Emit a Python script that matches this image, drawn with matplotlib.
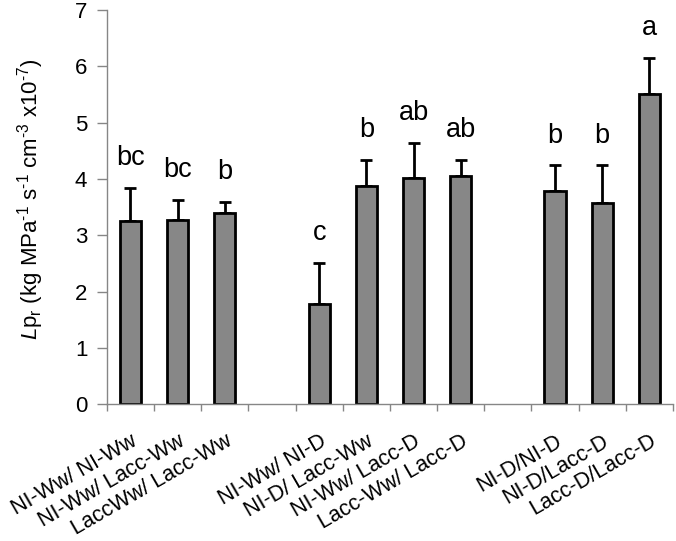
import matplotlib
matplotlib.use("Agg")
import matplotlib.pyplot as plt

plt.rcParams['font.family'] = ['Liberation Sans', 'DejaVu Sans']
plt.rcParams['mathtext.fontset'] = 'custom'
plt.rcParams['mathtext.rm'] = 'Liberation Sans'
plt.rcParams['mathtext.it'] = 'Liberation Sans:italic'

# data
labels = ['NI-Ww/ NI-Ww', 'NI-Ww/ Lacc-Ww', 'LaccWw/ Lacc-Ww',
          'NI-Ww/ NI-D', 'NI-D/ Lacc-Ww', 'NI-Ww/ Lacc-D', 'Lacc-Ww/ Lacc-D',
          'NI-D/NI-D', 'NI-D/Lacc-D', 'Lacc-D/Lacc-D']
slots = [0, 1, 2, 4, 5, 6, 7, 9, 10, 11]
lpr = [3.25, 3.27, 3.39, 1.78, 3.87, 4.01, 4.05, 3.78, 3.57, 5.51]
err = [0.59, 0.35, 0.20, 0.73, 0.46, 0.63, 0.28, 0.46, 0.67, 0.64]
letters = ['bc', 'bc', 'b', 'c', 'b', 'ab', 'ab', 'b', 'b', 'a']

fig = plt.figure(figsize=(6.76, 5.41), dpi=100)
ax = fig.add_axes([0.158, 0.253, 0.8376, 0.7285])

ax.bar(slots, lpr, width=0.45, color='#878787', edgecolor='black', linewidth=2,
       zorder=2)
ax.errorbar(slots, lpr, yerr=[[0] * len(err), err], fmt='none', ecolor='black',
            elinewidth=2, capsize=4.3, capthick=2, zorder=1)

for x, y, e, t in zip(slots, lpr, err, letters):
    ax.text(x, y + e + 0.3, t, ha='center', va='bottom', fontsize=19.5)

ax.set_xlim(-0.5, 11.5)
ax.set_ylim(0, 7)
ax.set_yticks(range(8))
ax.tick_params(axis='y', labelsize=16, length=7, width=1, color='#868686', pad=7)

# tick marks at slot borders, labels at bar centres
ax.set_xticks([i - 0.5 for i in range(13)])
ax.set_xticklabels([])
ax.tick_params(axis='x', which='major', length=5, width=1, color='#868686')
ax.set_xticks(slots, minor=True)
ax.set_xticklabels(labels, minor=True, rotation=30, ha='right', va='top',
                   rotation_mode='anchor', fontsize=15.5)
ax.tick_params(axis='x', which='minor', length=0, pad=19)

for s in ['top', 'right']:
    ax.spines[s].set_visible(False)
for s in ['left', 'bottom']:
    ax.spines[s].set_color('#868686')
    ax.spines[s].set_linewidth(1)

ax.set_ylabel(r'$\mathit{L}$p$_\mathrm{r}$ (kg MPa$^{\text{-}1}$ s$^{\text{-}1}$ '
              r'cm$^{\text{-}3}$ x10$^{\text{-}7}$)', fontsize=16)
ax.yaxis.set_label_coords(-0.107, 0.52)

fig.savefig('out.png', dpi=100)
